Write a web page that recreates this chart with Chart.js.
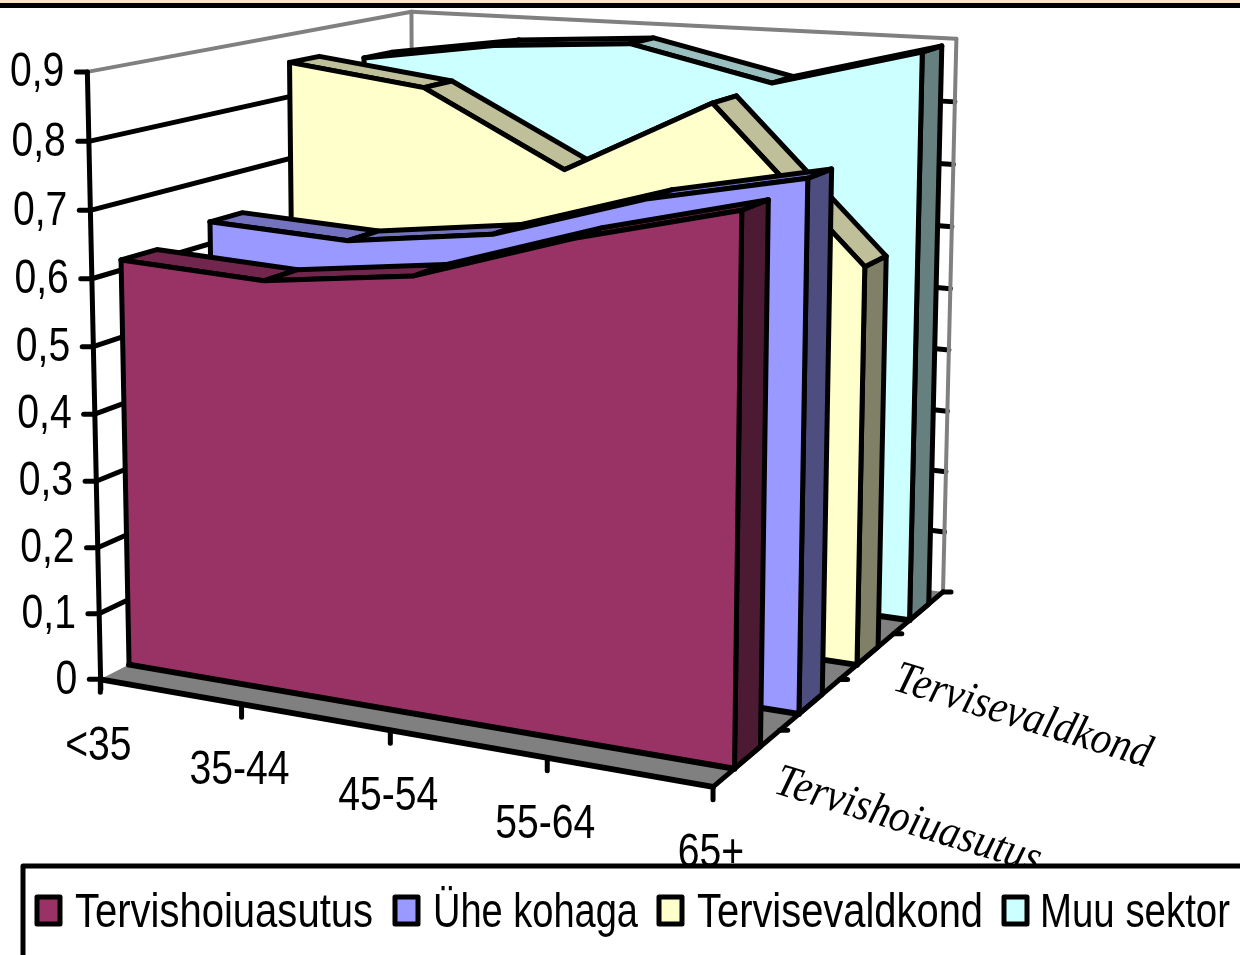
<!DOCTYPE html>
<html><head><meta charset="utf-8">
<style>html,body{margin:0;padding:0;background:#fff}canvas{display:block}</style>
<script src="https://cdn.jsdelivr.net/npm/chart.js@4/dist/chart.umd.min.js"></script>
</head><body><canvas id="c" width="1240" height="955"></canvas>
<script>
const ageGroups=['<35','35-44','45-54','55-64','65+'];
const yTicks=[0,0.9];
const seriesNames=['Tervishoiuasutus','Ühe kohaga','Tervisevaldkond','Muu sektor'];
const tervishoiuasutus=[0.615,0.605,0.633,0.705,0.762];
const yheKohaga=[0.634,0.624,0.653,0.723,0.770];
const tervisevaldkond=[0.855,0.828,0.715,0.832,0.605];
const muuSektor=[0.837,0.870,0.885,0.835,0.896];
const depthLabels=['Tervishoiuasutus','Tervisevaldkond'];
const frontColors=['#993366','#9999FF','#FFFFCC','#CCFFFF'];
const topColors=['#73264D','#7373BF','#BFBF99','#99BFBF'];
const sideColors=['#4D1A33','#4D4D80','#808066','#668080'];
const FONT='"Liberation Sans",Arial,sans-serif';
const NARROW=0.815;

// 3D camera fitted to the box corners of the plot
const corr=[[0,0,0,102,680],[0,1,0,88,70],[1,0,0,712,787],[1,0,1,945,590],[1,1,1,957,40],[0,1,1,410,12],
[1,0,.25,780,729],[1,0,.5,840,679],[1,0,.75,892,635],[.25,0,0,240,704],[.5,0,0,390,731],[.75,0,0,547,759],[0,5/9,0,94,347]];
function solve(A,b){const n=b.length;A=A.map((r,i)=>[...r,b[i]]);for(let i=0;i<n;i++){let p=i;for(let k=i+1;k<n;k++)if(Math.abs(A[k][i])>Math.abs(A[p][i]))p=k;[A[i],A[p]]=[A[p],A[i]];for(let k=i+1;k<n;k++){const f=A[k][i]/A[i][i];for(let j=i;j<=n;j++)A[k][j]-=f*A[i][j];}}const x=Array(n);for(let i=n-1;i>=0;i--){x[i]=A[i][n];for(let j=i+1;j<n;j++)x[i]-=A[i][j]*x[j];x[i]/=A[i][i];}return x;}
const rows=[],rhs=[];corr.forEach(([u,v,w,x,y])=>{rows.push([u,v,w,1,0,0,0,0,-x*u,-x*v,-x*w]);rhs.push(x);rows.push([0,0,0,0,u,v,w,1,-y*u,-y*v,-y*w]);rhs.push(y);});
const N=Array.from({length:11},(_,i)=>Array.from({length:11},(_,j)=>rows.reduce((s,r)=>s+r[i]*r[j],0)));
const R=Array.from({length:11},(_,i)=>rows.reduce((s,r,k)=>s+r[i]*rhs[k],0));
const m=solve(N,R);
function proj(u,v,w){const d=m[8]*u+m[9]*v+m[10]*w+1;return[(m[0]*u+m[1]*v+m[2]*w+m[3])/d,(m[4]*u+m[5]*v+m[6]*w+m[7])/d];}
const frontW=i=>(i+.31)/4, backW=i=>(i+.7)/4;
function uOf(chart,px){const a=chart.chartArea;return (px-a.left)/(a.right-a.left);}
function vOf(chart,py){const a=chart.chartArea;return (a.bottom-py)/(a.bottom-a.top);}
function poly(ctx,pts,fill,stroke){ctx.beginPath();pts.forEach((p,i)=>i?ctx.lineTo(p[0],p[1]):ctx.moveTo(p[0],p[1]));ctx.closePath();if(fill){ctx.fillStyle=fill;ctx.fill();}if(stroke){ctx.strokeStyle='#000';ctx.lineWidth=stroke;ctx.stroke();}}
function seg(ctx,a,b,color,lw){ctx.beginPath();ctx.moveTo(a[0],a[1]);ctx.lineTo(b[0],b[1]);ctx.strokeStyle=color;ctx.lineWidth=lw;ctx.stroke();}
function narrowLabels(scale,ctx){
 if(scale._narrowed)return;scale._narrowed=true;
 const orig=scale.drawLabels;
 scale.drawLabels=function(area){ctx.save();ctx.scale(NARROW,1);orig.call(this,area);ctx.restore();};
}

const plugin3d={id:'plot3d',
 afterDatasetsUpdate(chart){
  chart.data.datasets.forEach((ds,d)=>{
   const meta=chart.getDatasetMeta(d);
   meta.data.forEach((pt,i)=>{
    const p=proj(uOf(chart,chart.scales.x.getPixelForValue(i)),vOf(chart,chart.scales.y.getPixelForValue(ds.data[i])),frontW(d));
    pt.x=p[0];pt.y=p[1];
   });
  });
 },
 beforeDraw(chart){
  const {ctx,scales:{x,y}}=chart;
  ctx.save();
  ctx.fillStyle='#FBE6C1';ctx.fillRect(0,0,1240,3);
  ctx.fillStyle='#000';ctx.fillRect(0,3,1240,5);
  ctx.restore();
  chart.legend.draw=function(){};
  narrowLabels(x,ctx);narrowLabels(y,ctx);
  x.getLabelItems().forEach((it,i)=>{
   const p=proj(uOf(chart,x.getPixelForTick(i)),0,0);
   it.textOffset=0;Object.assign(it.options,{translation:[(p[0]-2)/NARROW,p[1]+67],textAlign:'center',textBaseline:'middle'});
  });
  y.getLabelItems().forEach((it,i)=>{
   const p=proj(0,vOf(chart,y.getPixelForTick(i)),0);
   it.textOffset=0;Object.assign(it.options,{translation:[(p[0]-23)/NARROW,p[1]+1],textAlign:'right',textBaseline:'middle'});
  });
 },
 beforeDatasetsDraw(chart){
  const {ctx,scales:{x,y}}=chart;
  ctx.save();ctx.lineCap='round';ctx.lineJoin='round';
  const A=proj(0,0,0),B=proj(0,1,0),C=proj(1,0,0),D=proj(1,0,1),E=proj(1,1,1),F=proj(0,1,1),G=proj(0,0,1);
  poly(ctx,[A,C,D,G],'#808080');
  // wall gridlines
  y.ticks.forEach((t,i)=>{
   const v=vOf(chart,y.getPixelForTick(i));
   if(v>.999||v<.001)return;
   seg(ctx,proj(0,v,0),proj(0,v,1),'#000',5);
   seg(ctx,proj(0,v,1),proj(1,v,1),'#000',5);
  });
  // grey wall outline
  seg(ctx,B,F,'#808080',4);seg(ctx,F,E,'#808080',4);seg(ctx,E,D,'#808080',4);seg(ctx,F,G,'#808080',4);
  // axes and ticks
  seg(ctx,B,[A[0]+.5,A[1]+10],'#000',5);
  y.ticks.forEach((t,i)=>{const p=proj(0,vOf(chart,y.getPixelForTick(i)),0);seg(ctx,p,[p[0]-11,p[1]],'#000',5);});
  ctx.restore();
 },
 beforeDatasetDraw(chart,args){
  const d=args.index,ds=chart.data.datasets[d],{ctx,scales:{x,y}}=chart;
  const n=ds.data.length,w0=frontW(d),w1=backW(d);
  const us=ds.data.map((_,i)=>uOf(chart,x.getPixelForValue(i)));
  const vs=ds.data.map(val=>vOf(chart,y.getPixelForValue(val)));
  const f=us.map((u,i)=>proj(u,vs[i],w0)),b=us.map((u,i)=>proj(u,vs[i],w1));
  const f0=proj(us[0],0,w0),f1=proj(us[n-1],0,w0),b1=proj(us[n-1],0,w1);
  ctx.save();ctx.lineJoin='round';ctx.lineCap='round';
  poly(ctx,[f[n-1],b[n-1],b1,f1],sideColors[d],5);
  for(let i=0;i<n-1;i++)poly(ctx,[f[i],f[i+1],b[i+1],b[i]],topColors[d],5);
  poly(ctx,[...f,f1,f0],frontColors[d]);
  seg(ctx,f[0],f0,'#000',5);seg(ctx,f0,f1,'#000',6);seg(ctx,f1,f[n-1],'#000',5);
  ctx.restore();
 },
 afterDatasetsDraw(chart){
  const {ctx,scales:{x}}=chart;
  ctx.save();ctx.lineCap='round';ctx.lineJoin='round';
  const A=proj(0,0,0),C=proj(1,0,0),D=proj(1,0,1);
  seg(ctx,A,C,'#000',6);seg(ctx,C,D,'#000',5);
  x.ticks.forEach((t,i)=>{const p=proj(uOf(chart,x.getPixelForTick(i)),0,0);seg(ctx,p,[p[0],p[1]+13],'#000',5);});
  [.25,.5,.75,1].forEach(w=>{const p=proj(1,0,w);seg(ctx,p,[p[0]+8,p[1]],'#000',5);});
  ctx.fillStyle='#000';ctx.font='italic 46px "Liberation Serif",serif';ctx.textAlign='left';ctx.textBaseline='middle';
  [[depthLabels[1],895,678],[depthLabels[0],776,781]].forEach(([s,px,py])=>{
   ctx.save();ctx.translate(px,py);ctx.rotate(17*Math.PI/180);ctx.scale(.89,1);ctx.fillText(s,0,0);ctx.restore();
  });
  ctx.restore();
 },
 afterDraw(chart){
  const {ctx}=chart,items=chart.legend.legendItems;
  const slots=[[37,75,298],[395,433,205],[659,697,286],[1004,1040,190]];
  ctx.save();
  ctx.fillStyle='#fff';ctx.fillRect(22,865,1218,90);
  ctx.strokeStyle='#000';ctx.lineWidth=5;ctx.lineJoin='round';
  ctx.beginPath();ctx.moveTo(23,960);ctx.lineTo(23,866);ctx.lineTo(1245,866);ctx.stroke();
  ctx.font='48px '+FONT;ctx.textBaseline='middle';ctx.textAlign='left';
  items.forEach((it,i)=>{
   const [bx,tx,tw]=slots[i];
   ctx.fillStyle=it.fillStyle;ctx.fillRect(bx,897,23,27);
   ctx.strokeRect(bx,897,23,27);
   ctx.fillStyle='#000';
   ctx.save();ctx.translate(tx,914);ctx.scale(tw/ctx.measureText(it.text).width,1);ctx.fillText(it.text,0,0);ctx.restore();
  });
  ctx.restore();
 }
};
const mk=(label,data,i)=>({label,data,backgroundColor:frontColors[i],borderColor:'#000',borderWidth:5,fill:false,tension:0,pointRadius:0,clip:false,borderJoinStyle:'round',borderCapStyle:'round'});
new Chart(document.getElementById('c'),{
 type:'line',
 data:{labels:ageGroups,datasets:[mk(seriesNames[0],tervishoiuasutus,0),mk(seriesNames[1],yheKohaga,1),mk(seriesNames[2],tervisevaldkond,2),mk(seriesNames[3],muuSektor,3)]},
 plugins:[plugin3d],
 options:{responsive:false,animation:false,layout:{padding:0},
  plugins:{legend:{display:true,position:'bottom',labels:{font:{family:FONT,size:48},color:'#000'}},tooltip:{enabled:false}},
  scales:{
   x:{offset:false,grid:{display:false},border:{display:false},ticks:{mirror:true,autoSkip:false,maxRotation:0,color:'#000',font:{family:FONT,size:48}}},
   y:{min:yTicks[0],max:yTicks[1],grid:{display:false},border:{display:false},ticks:{mirror:true,stepSize:0.1,color:'#000',font:{family:FONT,size:48},callback:v=>v===0?'0':v.toFixed(1).replace('.',',')}}
  }
 }
});
</script></body></html>
